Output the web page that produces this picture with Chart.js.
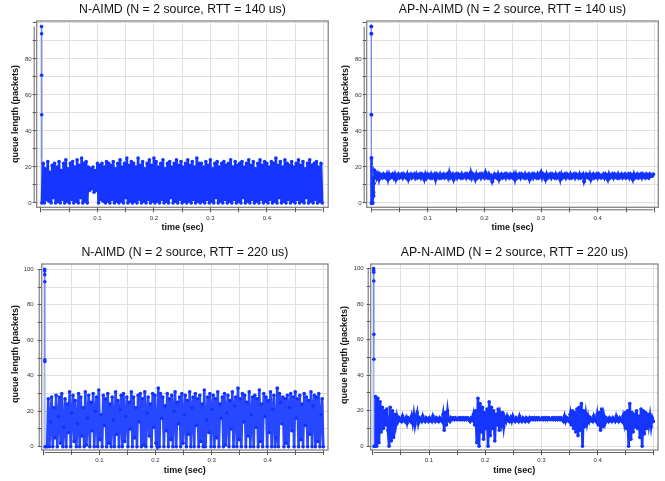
<!DOCTYPE html>
<html><head><meta charset="utf-8">
<script src="https://cdn.jsdelivr.net/npm/chart.js@4.4.1/dist/chart.umd.min.js"></script>
<style>
html,body{margin:0;padding:0;background:#fff;width:665px;height:481px;overflow:hidden}
canvas{position:absolute}
</style></head><body>
<canvas id="c1" width="330" height="240" style="left:0;top:0"></canvas>
<canvas id="c2" width="335" height="240" style="left:330px;top:0"></canvas>
<canvas id="c3" width="330" height="241" style="left:0;top:240px"></canvas>
<canvas id="c4" width="335" height="241" style="left:330px;top:240px"></canvas>
<script>
// ---------- titles ----------
const titles = [
  "N-AIMD (N = 2 source, RTT = 140 us)",
  "AP-N-AIMD (N = 2 source, RTT = 140 us)",
  "N-AIMD (N = 2 source, RTT = 220 us)",
  "AP-N-AIMD (N = 2 source, RTT = 220 us)"
];
const xTitle = "time (sec)";
const yTitle = "queue length (packets)";
const xTickLabels = ["0.1", "0.2", "0.3", "0.4"];
const yTickLabelsTop = ["0", "20", "40", "60", "80"];
const yTickLabelsBottom = ["0", "20", "40", "60", "80", "100"];

// ---------- panel 1: N-AIMD, RTT 140 us ----------
const p1SpikeT = [0.001, 0.0011, 0.0012, 0.0013, 0.0016];
const p1SpikeQ = [98, 94, 71, 49, 0];
const p1Start = 0.004, p1Step = 0.002;
const p1Q = [
22,0,19,2,23,1,17,0,21,3,22,0,20,1,23,0,18,2,22,0,
24,1,19,0,22,2,23,0,20,1,24,0,21,3,25,0,22,1,23,0,
20,7,19,8,20,6,18,7,22,0,21,2,22,1,20,0,23,1,22,0,
21,2,23,0,19,1,22,0,24,1,20,0,22,3,25,0,21,1,23,0,
22,1,20,0,25,2,21,0,23,1,19,0,22,2,24,0,21,1,25,0,
23,1,20,0,22,2,24,0,19,1,22,0,23,3,20,0,22,1,24,0,
21,2,23,0,20,1,22,0,24,1,21,0,23,2,20,0,25,1,22,0,
22,1,20,0,23,2,21,0,24,1,19,0,22,3,23,0,20,1,22,0,
23,2,21,0,22,1,24,0,20,2,23,0,21,1,22,0,23,3,20,0,
22,1,24,0,21,2,23,0,19,1,22,0,24,2,21,0,23,1,22,0,
20,2,23,0,22,1,25,0,21,3,23,0,20,1,24,0,22,2,21,0,
23,1,20,0,22,2,24,0,21,1,23,0,19,3,22,0,24,1,21,0,
22,2,23,0,20,1,22,0
];

// ---------- panel 2: AP-N-AIMD, RTT 140 us ----------
const p2SpikeT = [0.0005, 0.0006, 0.0007, 0.0008, 0.0009, 0.002, 0.003, 0.004, 0.0042, 0.0044, 0.005, 0.0055, 0.006];
const p2SpikeQ = [98, 94, 49, 25, 0, 0, 0, 4, 6, 4, 11, 14, 18];
const p2Start = 0.008, p2Step = 0.002;
const p2Q = [
17,14,16,13,16,15,14,16,15,14,16,13,16,14,15,16,14,16,13,15,
16,14,15,16,14,16,15,14,16,13,15,16,14,15,16,14,16,14,15,16,
14,16,15,13,16,14,16,15,14,16,14,15,16,13,16,15,14,16,14,15,
16,14,15,16,14,17,14,15,16,13,15,16,14,16,15,14,16,14,15,16,
14,16,15,14,17,14,16,15,13,16,14,15,16,14,16,15,14,17,15,14,
16,14,15,12,14,16,15,14,16,13,15,16,14,15,16,14,16,15,14,16,
15,14,16,13,16,14,15,16,14,16,15,14,16,14,15,16,13,15,16,14,
16,15,14,16,14,15,17,14,16,15,13,16,14,15,16,14,16,15,14,16,
14,15,16,13,16,14,15,16,14,16,15,14,16,14,15,16,14,16,15,14,
16,14,15,16,12,14,16,15,14,16,13,15,16,14,15,16,14,16,15,14,
15,16,14,16,15,13,16,14,15,16,14,16,15,14,16,14,15,16,14,15,
16,14,15,16,14,16,15,13,16,14,15,16,14,15,16,14,16,15,14,16,
15,14,16,15,15,16
];

// ---------- panel 3: N-AIMD, RTT 220 us ----------
const p3SpikeT = [0.0025, 0.0026, 0.0027, 0.0028, 0.0029, 0.003, 0.0032, 0.005];
const p3SpikeQ = [100, 99, 97, 93, 49, 48, 0, 0];
const p3Start = 0.007, p3Step = 0.002;
const p3Q = [
0,27,0,14,28,0,22,5,29,0,17,28,2,30,0,11,27,0,24,8,
31,0,19,29,3,26,0,13,30,0,28,6,22,0,31,1,16,29,0,25,
9,30,0,20,28,0,32,4,18,0,29,12,27,0,30,2,24,0,28,15,
0,31,7,26,0,21,29,0,30,3,17,28,0,25,10,31,0,28,5,22,
0,29,14,30,0,27,1,31,0,19,28,6,24,0,30,11,29,2,0,33,
0,30,16,28,0,23,9,30,0,27,4,29,0,20,31,0,25,13,28,0,
30,2,18,29,0,26,7,31,0,22,28,0,30,12,27,0,29,3,24,0,
32,0,15,28,8,30,0,21,29,0,27,5,31,0,24,16,28,0,30,1,
19,29,0,26,10,31,0,23,28,0,33,4,27,0,30,14,29,0,25,6,
31,0,18,28,0,29,11,27,0,32,3,24,0,30,17,28,0,26,8,31,
0,21,29,0,5,33,0,30,25,13,28,0,27,2,29,0,22,30,9,28,
0,31,16,27,0,29,4,24,0,30,12,28,0,26,7,31,0,23,29,0,
28,3,30,0,18,27,0
];

// ---------- panel 4: AP-N-AIMD, RTT 220 us ----------
const p4SpikeT = [0.0015, 0.0016, 0.0017, 0.0018, 0.0019, 0.002, 0.0022, 0.003, 0.004];
const p4SpikeQ = [100, 99, 98, 93, 63, 49, 0, 0, 0];
const p4Start = 0.005, p4Step = 0.002;
const p4Q = [
28,0,27,2,25,8,22,10,20,12,21,9,0,22,3,20,5,18,12,17,
14,16,15,14,17,15,14,16,13,16,15,14,17,13,18,12,16,19,13,16,
15,14,17,15,14,16,15,14,16,15,14,17,15,14,16,15,14,16,15,14,
18,9,19,12,20,15,14,16,15,16,15,16,15,15,16,15,16,15,16,15,
16,15,16,15,14,16,15,18,12,20,2,27,0,24,8,22,4,19,10,21,
0,25,6,22,10,20,3,18,12,21,9,17,13,19,11,16,14,17,15,14,
16,14,17,15,14,16,15,14,17,15,14,16,15,14,16,15,14,16,15,16,
15,16,15,16,15,16,15,15,16,15,16,15,16,15,16,15,15,16,15,16,
15,16,15,16,15,16,15,14,17,14,16,15,14,18,12,20,10,19,8,21,
6,22,9,24,0,20,11,18,13,17,14,16,15,14,17,15,14,18,12,19,
9,21,11,17,13,16,15,14,16,15,14,16,15,14,17,15,14,16,15,14,
17,13,19,10,20,0,24,4,19,8,18,11,20,10,17,5,21,0,20,7,
19,10,18,12,17,11,16,14
];

// ---------- drawing ----------
const FF = '"Liberation Sans", Arial, Helvetica, sans-serif';
const DOT = 'rgb(18,50,255)';
const LIGHT = 'rgb(110,140,255)';

function makeChart(p) {
  const pts = [];
  p.spikeT.forEach((t, i) => pts.push({x: t, y: p.spikeQ[i]}));
  p.bodyQ.forEach((q, i) => pts.push({x: +(p.start + i * p.step).toFixed(5), y: q}));
  const cv = document.getElementById(p.id);
  const W = cv.width, H = cv.height;
  const b = p.box;
  const maxQ = Math.max(...pts.map(d => d.y));
  const firstT = pts[0].x, lastT = pts[pts.length - 1].x;

  const deco = {
    id: 'deco',
    afterDraw(chart) {
      const ctx = chart.ctx, ca = chart.chartArea;
      const xs = chart.scales.x, ys = chart.scales.y;
      ctx.save();
      ctx.strokeStyle = '#7d7d7d';
      ctx.lineWidth = 1.2;
      ctx.strokeRect(ca.left, ca.top, ca.right - ca.left, ca.bottom - ca.top);
      ctx.strokeStyle = '#666';
      ctx.lineWidth = 1;
      ctx.beginPath();
      ctx.moveTo(xs.getPixelForValue(firstT), ca.bottom + 2.5);
      ctx.lineTo(xs.getPixelForValue(lastT), ca.bottom + 2.5);
      ctx.moveTo(ca.left - 2.5, ys.getPixelForValue(0));
      ctx.lineTo(ca.left - 2.5, ys.getPixelForValue(maxQ));
      ctx.stroke();
      ctx.fillStyle = '#111';
      ctx.textAlign = 'center';
      ctx.textBaseline = 'middle';
      ctx.font = '12.3px ' + FF;
      ctx.fillText(p.title, (ca.left + ca.right) / 2, p.titleY);
      ctx.font = 'bold 9px ' + FF;
      ctx.fillText(xTitle, (ca.left + ca.right) / 2, p.xTitleY);
      ctx.translate(p.yTitleX, p.yTitleY);
      ctx.rotate(-Math.PI / 2);
      ctx.fillText(yTitle, 0, 0);
      ctx.restore();
    }
  };

  new Chart(cv, {
    type: 'line',
    data: {datasets: [{
      data: pts,
      borderColor: p.line,
      borderWidth: p.lw,
      pointRadius: p.pr,
      pointHoverRadius: p.pr,
      pointBackgroundColor: DOT,
      pointBorderWidth: 0,
      tension: 0,
      segment: {
        borderColor: c => (c.p0.parsed.y > 34 || c.p1.parsed.y > 34) ? LIGHT : undefined,
        borderWidth: c => (c.p0.parsed.y > 34 || c.p1.parsed.y > 34) ? 1 : undefined
      }
    }]},
    options: {
      responsive: false,
      animation: false,
      events: [],
      layout: {padding: {left: 0, top: b.t, right: W - b.r, bottom: 0}},
      plugins: {legend: {display: false}, tooltip: {enabled: false}, title: {display: false}},
      scales: {
        x: {
          type: 'linear', min: p.xMin, max: p.xMax,
          afterFit: s => { s.height = H - b.b; s.paddingLeft = 0; s.paddingRight = 0; },
          grid: {color: '#e0e0e0', lineWidth: 1, tickColor: '#555', tickLength: 5},
          border: {display: false},
          ticks: {
            stepSize: 0.05, includeBounds: false, autoSkip: false, maxRotation: 0, minRotation: 0,
            padding: 2, color: '#333', font: {family: FF, size: 6},
            callback: v => {
              const s = (Math.round(v * 100) / 100).toFixed(1);
              return (Math.abs(v * 10 - Math.round(v * 10)) < 1e-6 && xTickLabels.includes(s)) ? s : '';
            }
          }
        },
        y: {
          type: 'linear', min: p.yMin, max: p.yMax,
          afterFit: s => { s.width = b.l; s.paddingTop = 0; s.paddingBottom = 0; },
          grid: {color: '#e0e0e0', lineWidth: 1, tickColor: '#555', tickLength: 4},
          border: {display: false},
          ticks: {
            stepSize: 10, includeBounds: false, autoSkip: false,
            padding: p.yPad, color: '#333', font: {family: FF, size: 6},
            callback: v => p.yLabels.includes(String(Math.round(v))) && Math.abs(v - Math.round(v)) < 1e-6 ? String(Math.round(v)) : ''
          }
        }
      }
    },
    plugins: [deco]
  });
}

makeChart({id: 'c1', title: titles[0], spikeT: p1SpikeT, spikeQ: p1SpikeQ, start: p1Start, step: p1Step, bodyQ: p1Q,
  line: 'rgb(22,54,255)', lw: 2.6, pr: 1.8, box: {l: 36.7, t: 21, r: 329.3, b: 207.3},
  xMin: -0.0076, xMax: 0.5087, yMin: -2.4, yMax: 101.1, yLabels: yTickLabelsTop, yPad: 1,
  titleY: 10, xTitleY: 228, yTitleX: 16, yTitleY: 114});
makeChart({id: 'c2', title: titles[1], spikeT: p2SpikeT, spikeQ: p2SpikeQ, start: p2Start, step: p2Step, bodyQ: p2Q,
  line: 'rgb(22,54,255)', lw: 2.6, pr: 2, box: {l: 36.7, t: 21, r: 328.3, b: 207.3},
  xMin: -0.0076, xMax: 0.507, yMin: -2.4, yMax: 101.1, yLabels: yTickLabelsTop, yPad: 1,
  titleY: 10, xTitleY: 228, yTitleX: 16, yTitleY: 114});
makeChart({id: 'c3', title: titles[2], spikeT: p3SpikeT, spikeQ: p3SpikeQ, start: p3Start, step: p3Step, bodyQ: p3Q,
  line: 'rgb(40,72,255)', lw: 2.6, pr: 1.8, box: {l: 41.7, t: 24, r: 328, b: 210},
  xMin: -0.0027, xMax: 0.5074, yMin: -1.86, yMax: 103.0, yLabels: yTickLabelsBottom, yPad: 4,
  titleY: 13, xTitleY: 230.7, yTitleX: 16, yTitleY: 114});
makeChart({id: 'c4', title: titles[3], spikeT: p4SpikeT, spikeQ: p4SpikeQ, start: p4Start, step: p4Step, bodyQ: p4Q,
  line: 'rgb(22,54,255)', lw: 2.6, pr: 1.8, box: {l: 40.7, t: 24, r: 328, b: 210},
  xMin: -0.0037, xMax: 0.5072, yMin: -2.1, yMax: 102.6, yLabels: yTickLabelsBottom, yPad: 3,
  titleY: 13, xTitleY: 230.7, yTitleX: 15, yTitleY: 115});
</script>
</body></html>
